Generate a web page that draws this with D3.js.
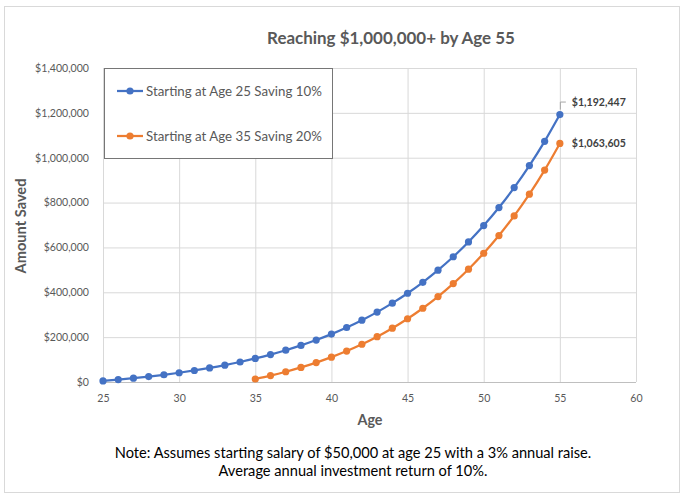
<!DOCTYPE html>
<html>
<head>
<meta charset="utf-8">
<script src="https://cdn.jsdelivr.net/npm/d3@7"></script>
<style>
  html, body { margin: 0; padding: 0; background: #fff; }
  svg { display: block; }
  text { font-family: Lato, "Open Sans", "Liberation Sans", sans-serif; }
</style>
</head>
<body>
<svg id="chart" width="684" height="497"></svg>
<script>
// ---- data ----
const title = "Reaching $1,000,000+ by Age 55";
const seriesNames = ["Starting at Age 25 Saving 10%", "Starting at Age 35 Saving 20%"];
const ages25 = [25,26,27,28,29,30,31,32,33,34,35,36,37,38,39,40,41,42,43,44,45,46,47,48,49,50,51,52,53,54,55];
const saved25 = [5000,10650,17020,24185,32231,41251,51346,62630,75227,89273,104920,122333,141696,163208,187091,213590,242973,275535,311600,351528,395711,444584,498623,558353,624352,697256,777765,866648,964752,1073010,1192447];
const ages35 = [35,36,37,38,39,40,41,42,43,44,45,46,47,48,49,50,51,52,53,54,55];
const saved35 = [13439,28625,45746,65005,86632,110875,138009,168339,202197,239952,282008,328812,380854,438675,502871,574096,653071,740591,837529,944848,1063605];
const xTicks = [25,30,35,40,45,50,55,60];
const yTicks = [0,200000,400000,600000,800000,1000000,1200000,1400000];
const endLabels = ["$1,192,447", "$1,063,605"];
const noteLines = ["Note: Assumes starting salary of $50,000 at age 25 with a 3% annual raise.",
                   "Average annual investment return of 10%."];
const xTitle = "Age";
const yTitle = "Amount Saved";
const colors = ["#4472C4", "#ED7D31"];

// ---- layout ----
const svg = d3.select("#chart");
const plot = { left: 103, right: 636, top: 68, bottom: 382 };

function fit(sel, target) {
  const len = sel.node().getComputedTextLength();
  const fs = parseFloat(sel.attr("font-size"));
  sel.attr("font-size", fs * target / len);
  return sel;
}

// outer border
svg.append("rect").attr("x", 4.5).attr("y", 6.5).attr("width", 675).attr("height", 486)
  .attr("fill", "#fff").attr("stroke", "#D9D9D9");

const x = d3.scaleLinear().domain([25, 60]).range([plot.left, plot.right]);
const y = d3.scaleLinear().domain([0, 1400000]).range([plot.bottom, plot.top]);

// gridlines
const gx = svg.append("g").attr("transform", `translate(0,${plot.bottom})`)
  .call(d3.axisBottom(x).tickValues(xTicks).tickSize(-(plot.bottom - plot.top)).tickFormat(""));
gx.select(".domain").remove();
gx.selectAll("line").attr("stroke", "#D9D9D9");

const gy = svg.append("g").attr("transform", `translate(${plot.left},0)`)
  .call(d3.axisLeft(y).tickValues(yTicks).tickSize(-(plot.right - plot.left)).tickFormat(""));
gy.select(".domain").remove();
gy.selectAll("line").attr("stroke", "#D9D9D9");

// bottom axis line
svg.append("line").attr("x1", plot.left).attr("x2", plot.right)
  .attr("y1", plot.bottom + 0.5).attr("y2", plot.bottom + 0.5).attr("stroke", "#BFBFBF");

// tick labels
const tickFs = (() => {
  const t = svg.append("text").attr("font-size", 12).text("$1,400,000");
  fit(t, 54);
  const fs = +t.attr("font-size");
  t.remove();
  return fs;
})();

const ax = svg.append("g").attr("transform", `translate(0,${plot.bottom})`)
  .call(d3.axisBottom(x).tickValues(xTicks).tickSize(0).tickPadding(12).tickFormat(d3.format("d")));
ax.select(".domain").remove();
ax.selectAll("text").attr("font-size", tickFs).attr("fill", "#595959")
  .style("font-family", "Lato, 'Open Sans', sans-serif");

const ay = svg.append("g").attr("transform", `translate(${plot.left},0)`)
  .call(d3.axisLeft(y).tickValues(yTicks).tickSize(0).tickPadding(14).tickFormat(d3.format("$,")));
ay.select(".domain").remove();
ay.selectAll("text").attr("font-size", tickFs).attr("fill", "#595959")
  .style("font-family", "Lato, 'Open Sans', sans-serif");

// series
const series = [
  { ages: ages25, vals: saved25, color: colors[0] },
  { ages: ages35, vals: saved35, color: colors[1] }
];
const line = d3.line().x(d => x(d[0])).y(d => y(d[1])).curve(d3.curveCatmullRom.alpha(0.5));
series.forEach(s => {
  const pts = s.ages.map((a, i) => [a, s.vals[i]]);
  svg.append("path").datum(pts).attr("d", line).attr("fill", "none")
    .attr("stroke", s.color).attr("stroke-width", 2.25).attr("stroke-linejoin", "round");
  svg.append("g").selectAll("circle").data(pts).join("circle")
    .attr("cx", d => x(d[0])).attr("cy", d => y(d[1])).attr("r", 3.6).attr("fill", s.color);
});

// end labels
const last0 = [ages25[ages25.length - 1], saved25[saved25.length - 1]];
const last1 = [ages35[ages35.length - 1], saved35[saved35.length - 1]];
const lx0 = x(last0[0]), ly0 = y(last0[1]);
svg.append("path")
  .attr("d", `M${lx0 + 0.5},${ly0 - 5} V${ly0 - 12.5} H${lx0 + 6}`)
  .attr("fill", "none").attr("stroke", "#A6A6A6").attr("stroke-width", 1);
const el0 = svg.append("text").attr("x", lx0 + 12).attr("y", ly0 - 12).attr("dy", "0.35em")
  .attr("font-size", 12).attr("font-weight", 700).attr("fill", "#404040").text(endLabels[0]);
fit(el0, 54);
const el1 = svg.append("text").attr("x", x(last1[0]) + 12).attr("y", y(last1[1])).attr("dy", "0.35em")
  .attr("font-size", 12).attr("font-weight", 700).attr("fill", "#404040").text(endLabels[1]);
fit(el1, 54);

// legend
const lg = svg.append("g");
lg.append("rect").attr("x", 104.5).attr("y", 68.5).attr("width", 228).attr("height", 90)
  .attr("fill", "#fff").attr("stroke", "#767676").attr("stroke-width", 1);
const legY = [91, 136];
seriesNames.forEach((name, i) => {
  lg.append("line").attr("x1", 117).attr("x2", 143).attr("y1", legY[i]).attr("y2", legY[i])
    .attr("stroke", colors[i]).attr("stroke-width", 2.25);
  lg.append("circle").attr("cx", 130).attr("cy", legY[i]).attr("r", 3.6).attr("fill", colors[i]);
  const t = lg.append("text").attr("x", 146).attr("y", legY[i]).attr("dy", "0.35em")
    .attr("font-size", 13).attr("fill", "#595959").text(name);
  fit(t, 176);
});

// title
const tt = svg.append("text").attr("x", 391).attr("y", 38.5).attr("dy", "0.35em")
  .attr("text-anchor", "middle").attr("font-size", 18).attr("font-weight", 700)
  .attr("fill", "#595959").text(title);
fit(tt, 248);

// axis titles
const xt = svg.append("text").attr("x", 370).attr("y", 420).attr("dy", "0.35em")
  .attr("text-anchor", "middle").attr("font-size", 13).attr("font-weight", 700)
  .attr("fill", "#595959").text(xTitle);
fit(xt, 25);
const yt = svg.append("text").attr("transform", `translate(21,226) rotate(-90)`)
  .attr("dy", "0.35em").attr("text-anchor", "middle").attr("font-size", 13).attr("font-weight", 700)
  .attr("fill", "#595959").text(yTitle);
fit(yt, 95);

// note
const nt0 = svg.append("text").attr("x", 353).attr("y", 453).attr("dy", "0.35em")
  .attr("text-anchor", "middle").attr("font-size", 14).attr("fill", "#000").text(noteLines[0]);
fit(nt0, 477);
svg.append("text").attr("x", 353).attr("y", 471).attr("dy", "0.35em")
  .attr("text-anchor", "middle").attr("font-size", +nt0.attr("font-size")).attr("fill", "#000").text(noteLines[1]);
</script>
</body>
</html>
